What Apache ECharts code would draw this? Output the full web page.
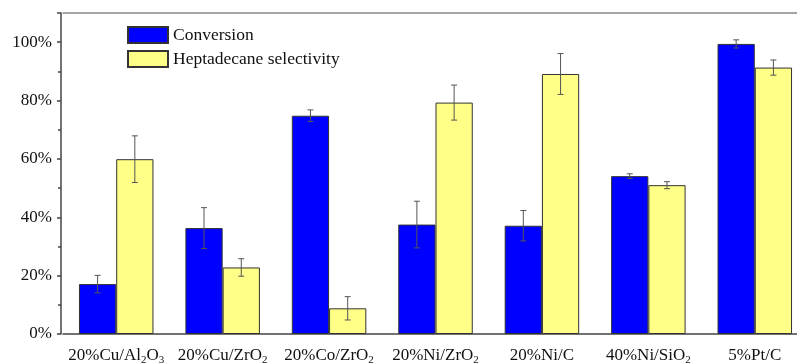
<!DOCTYPE html>
<html>
<head>
<meta charset="utf-8">
<script src="https://cdn.jsdelivr.net/npm/echarts@6/dist/echarts.min.js"></script>
<style>
  html, body { margin: 0; padding: 0; background: #fff; overflow: hidden; }
  #chart { width: 830px; height: 364px; }
</style>
</head>
<body>
<div id="chart"></div>
<script>
// Catalyst labels (rich-text markup for subscripts)
const categories = [
  '20%Cu/Al{s|2}O{s|3}',
  '20%Cu/ZrO{s|2}',
  '20%Co/ZrO{s|2}',
  '20%Ni/ZrO{s|2}',
  '20%Ni/C',
  '40%Ni/SiO{s|2}',
  '5%Pt/C'
];

// Conversion (%) and its error
const conversion    = [17.1, 36.3, 74.8, 37.5, 37.1, 54.1, 99.4];
const conversionErr = [3.0, 7.0, 2.0, 8.0, 5.2, 0.8, 1.4];

// Heptadecane selectivity (%) and its error
const selectivity    = [59.9, 22.8, 8.8, 79.3, 89.1, 51.0, 91.3];
const selectivityErr = [8.0, 3.0, 4.0, 6.0, 7.0, 1.2, 2.6];

const yTicks = [0, 20, 40, 60, 80, 100];

const FONT = '"Liberation Serif", "Times New Roman", serif';
const BLUE = '#0000ff';
const YELLOW = '#ffff88';
const EDGE = '#333333';

// Error bar drawn at an offset (fraction of band width) from the category centre
function errorBars(values, errs, offsetFrac) {
  return {
    type: 'custom',
    z: 10,
    silent: true,
    data: values.map((v, i) => [i, v, errs[i]]),
    encode: { x: 0, y: 1 },
    renderItem: function (params, api) {
      const idx = api.value(0);
      const v = api.value(1);
      const e = api.value(2);
      const band = api.size([1, 0])[0];
      const hi = api.coord([idx, v + e]);
      const lo = api.coord([idx, v - e]);
      const x = hi[0] + band * offsetFrac;
      const cap = 3;
      const style = { stroke: '#555', lineWidth: 1 };
      return {
        type: 'group',
        children: [
          { type: 'line', shape: { x1: x, y1: hi[1], x2: x, y2: lo[1] }, style: style },
          { type: 'line', shape: { x1: x - cap, y1: hi[1], x2: x + cap, y2: hi[1] }, style: style },
          { type: 'line', shape: { x1: x - cap, y1: lo[1], x2: x + cap, y2: lo[1] }, style: style }
        ]
      };
    }
  };
}

const chart = echarts.init(document.getElementById('chart'), null, { renderer: 'canvas' });

chart.setOption({
  animation: false,
  backgroundColor: '#fff',
  textStyle: { fontFamily: FONT },
  legend: {
    data: ['Conversion', 'Heptadecane selectivity'],
    orient: 'vertical',
    left: 127,
    top: 26,
    itemWidth: 40,
    itemHeight: 16,
    itemGap: 6,
    padding: 0,
    icon: 'rect',
    textStyle: { fontFamily: FONT, fontSize: 17.5, color: '#111' }
  },
  grid: { left: 63, top: 13, width: 745, height: 321, containLabel: false, outerBoundsMode: 'none' },
  xAxis: [
    {
      type: 'category',
      data: categories,
      position: 'bottom',
      axisLine: { lineStyle: { color: '#444', width: 1.5 } },
      axisTick: { alignWithLabel: true, length: 6, lineStyle: { color: '#444', width: 1.5 } },
      axisLabel: {
        margin: 12,
        interval: 0,
        fontFamily: FONT,
        fontSize: 17,
        color: '#111',
        lineHeight: 20,
        rich: {
          s: { fontFamily: FONT, fontSize: 11, color: '#111', lineHeight: 8, verticalAlign: 'bottom' }
        }
      }
    },
    {
      // boundary ticks between groups
      type: 'category',
      data: categories,
      position: 'bottom',
      axisLine: { show: false },
      axisTick: { alignWithLabel: false, length: 3, lineStyle: { color: '#444', width: 1.5 } },
      axisLabel: { show: false }
    },
    {
      // top frame line
      type: 'category',
      data: categories,
      position: 'top',
      axisLine: { lineStyle: { color: '#888', width: 1.5 } },
      axisTick: { show: false },
      axisLabel: { show: false }
    }
  ],
  yAxis: {
    type: 'value',
    min: 0,
    max: 110,
    interval: 20,
    offset: 2,
    axisLine: { show: true, lineStyle: { color: '#444', width: 1.5 } },
    axisTick: { show: true, length: 4, lineStyle: { color: '#444', width: 1.5 } },
    minorTick: { show: true, splitNumber: 2, length: 3, lineStyle: { color: '#444', width: 1.5 } },
    splitLine: { show: false },
    axisLabel: {
      margin: 9,
      fontFamily: FONT,
      fontSize: 17,
      color: '#111',
      showMaxLabel: false,
      formatter: function (v) { return yTicks.indexOf(v) >= 0 ? v + '%' : ''; }
    }
  },
  series: [
    {
      name: 'Conversion',
      type: 'bar',
      data: conversion,
      barGap: '0%',
      barCategoryGap: '30%',
      itemStyle: { color: BLUE, borderColor: EDGE, borderWidth: 1 }
    },
    {
      name: 'Heptadecane selectivity',
      type: 'bar',
      data: selectivity,
      barGap: '0%',
      barCategoryGap: '30%',
      itemStyle: { color: YELLOW, borderColor: EDGE, borderWidth: 1 }
    },
    errorBars(conversion, conversionErr, -0.175),
    errorBars(selectivity, selectivityErr, 0.175)
  ]
});
</script>
</body>
</html>
